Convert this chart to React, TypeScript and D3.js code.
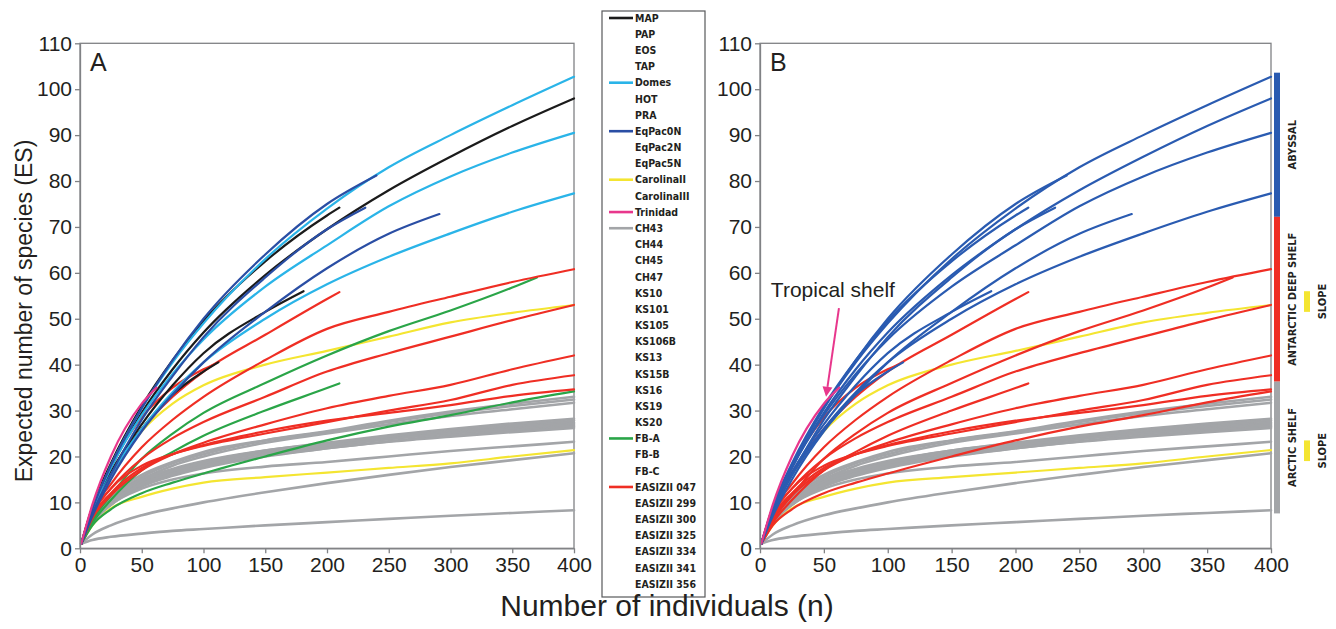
import { useEffect, useRef } from "react";
import * as d3 from "d3";

const W = 1336;
const H = 629;

// sample sizes at which the expected species values were read
const nGrid = [1, 10, 25, 50, 75, 100, 150, 200, 250, 300, 350, 400];

// ES(n) values (last value sits at the curve's end n)
const esMAP = [1, 8.5, 17.5, 29.5, 39, 47, 59.5, 69.5, 78, 85.3, 92, 98];
const esPAP = [1, 9, 18.5, 31, 41, 49.5, 62.5, 72.5, 74.2];
const esEOS = [1, 8, 16.5, 27, 35.5, 42.5, 51.5, 56];
const esTAP = [1, 8, 16, 26, 33.5, 38.5, 40.5];
const esDomes = [1, 8.5, 18, 30.5, 40.5, 49, 63, 74, 83, 90, 96.5, 102.7];
const esHOT = [1, 8.5, 17.5, 29, 38, 45.5, 57, 66, 74.5, 81, 86.2, 90.5];
const esPRA = [1, 8, 16, 26, 34, 40.5, 50, 57.5, 63.5, 68.6, 73.3, 77.3];
const esEqPac0N = [1, 8.5, 18, 30.5, 41, 50, 64, 75, 81.2];
const esEqPac2N = [1, 7.5, 16, 28, 37.5, 46, 59, 69.5, 74.2];
const esEqPac5N = [1, 7, 15, 25.5, 33.5, 40.5, 51.5, 61, 68.5, 72.8];
const esCarolinaII = [1, 8, 16, 25.5, 31.5, 35.5, 40, 43, 46.1, 49.2, 51.3, 53];
const esCarolinaIII = [1, 5, 8.7, 11.2, 13, 14.3, 15.5, 16.5, 17.5, 18.5, 20, 21.4];
const esTrinidad = [1, 9.5, 20, 31.5, 35];
const esCH43 = [1, 6.5, 11, 15.5, 18.5, 20.5, 23.5, 25.5, 27.8, 29.8, 31.5, 33];
const esCH44 = [1, 6.5, 11.5, 16, 18.8, 21, 23.5, 25.3, 27.5, 29.4, 31, 32.4];
const esCH45 = [1, 6, 10.5, 15, 18, 20, 23, 25, 27, 28.8, 30.3, 31.7];
const esCH47 = [1, 6, 10.5, 14.5, 17, 18.8, 21.3, 23, 24.6, 26, 27.2, 28.2];
const esKS10 = [1, 5.5, 10, 14, 16.5, 18.3, 20.8, 22.6, 24.2, 25.6, 26.8, 27.8];
const esKS101 = [1, 6.5, 11, 15, 17.3, 19, 21.3, 22.8, 24.3, 25.5, 26.5, 27.4];
const esKS105 = [1, 5.5, 9.5, 13.5, 16, 17.8, 20.3, 22.2, 23.8, 25.2, 26.2, 27.1];
const esKS106B = [1, 6, 10.5, 14.5, 16.8, 18.5, 20.8, 22.4, 23.8, 25, 26, 26.8];
const esKS13 = [1, 5.5, 9.5, 13.5, 15.8, 17.5, 20, 21.8, 23.3, 24.6, 25.6, 26.5];
const esKS15B = [1, 6, 10, 14, 16.3, 18, 20.2, 21.8, 23.2, 24.3, 25.3, 26.2];
const esKS16 = [1, 5.5, 9.5, 13, 15, 16.3, 17.8, 18.8, 20, 21.2, 22.2, 23.2];
const esKS19 = [1, 3, 5, 7.2, 8.7, 10, 12.2, 14.2, 16, 17.7, 19.2, 20.7];
const esKS20 = [1, 1.8, 2.5, 3.2, 3.8, 4.2, 5, 5.7, 6.4, 7.1, 7.7, 8.3];
const esFBA = [1, 6, 11.5, 19.5, 25, 29.5, 36, 42, 47.3, 51.8, 56.8, 59];
const esFBB = [1, 5.5, 10.5, 17, 21, 24.5, 30, 34.9, 35.9];
const esFBC = [1, 5, 8.5, 12, 14.3, 16.3, 20, 23.5, 26.5, 29, 31.8, 34.2];
const esE047 = [1, 8, 14, 22, 28, 33, 41, 47.8, 51.5, 54.8, 58, 60.8];
const esE299 = [1, 8.5, 16.5, 26, 33, 38.5, 46.5, 54.3, 55.8];
const esE300 = [1, 9, 18, 28.5, 35, 39, 40];
const esE325 = [1, 7.5, 13, 19.5, 24, 27.5, 33, 38.5, 42.5, 46.1, 49.7, 53];
const esE334 = [1, 6.5, 11.5, 17, 20.5, 23, 27, 30.5, 33.2, 35.6, 39, 42];
const esE341 = [1, 7.5, 13, 18, 20.5, 22.3, 25, 27.5, 30, 32.3, 35.6, 37.7];
const esE356 = [1, 7, 12, 17.5, 20.5, 22.5, 25.5, 27.8, 29.5, 31.2, 33.2, 34.6];

const siteNames = [
  "MAP", "PAP", "EOS", "TAP", "Domes", "HOT", "PRA", "EqPac0N", "EqPac2N", "EqPac5N",
  "CarolinaII", "CarolinaIII", "Trinidad", "CH43", "CH44", "CH45", "CH47", "KS10", "KS101",
  "KS105", "KS106B", "KS13", "KS15B", "KS16", "KS19", "KS20", "FB-A", "FB-B", "FB-C",
  "EASIZII 047", "EASIZII 299", "EASIZII 300", "EASIZII 325", "EASIZII 334", "EASIZII 341", "EASIZII 356",
];
const siteValues = [
  esMAP, esPAP, esEOS, esTAP, esDomes, esHOT, esPRA, esEqPac0N, esEqPac2N, esEqPac5N,
  esCarolinaII, esCarolinaIII, esTrinidad, esCH43, esCH44, esCH45, esCH47, esKS10, esKS101,
  esKS105, esKS106B, esKS13, esKS15B, esKS16, esKS19, esKS20, esFBA, esFBB, esFBC,
  esE047, esE299, esE300, esE325, esE334, esE341, esE356,
];
// largest sample size of each curve
const siteMaxN = [
  400, 210, 181, 112, 400, 400, 400, 240, 231, 291,
  400, 400, 62, 400, 400, 400, 400, 400, 400,
  400, 400, 400, 400, 400, 400, 400, 370, 210, 400,
  400, 210, 108, 400, 400, 400, 400,
];
// panel A: region group, panel B: habitat
const siteGroup = [
  "MAP", "MAP", "MAP", "MAP", "Domes", "Domes", "Domes", "EqPac", "EqPac", "EqPac",
  "Carolina", "Carolina", "Trinidad", "CH", "CH", "CH", "CH", "CH", "CH",
  "CH", "CH", "CH", "CH", "CH", "CH", "CH", "FB", "FB", "FB",
  "EASIZII", "EASIZII", "EASIZII", "EASIZII", "EASIZII", "EASIZII", "EASIZII",
];
const siteHabitat = [
  "abyssal", "abyssal", "abyssal", "abyssal", "abyssal", "abyssal", "abyssal", "abyssal", "abyssal", "abyssal",
  "slope", "slope", "tropical", "arctic", "arctic", "arctic", "arctic", "arctic", "arctic",
  "arctic", "arctic", "arctic", "arctic", "arctic", "arctic", "arctic", "antarctic", "antarctic", "antarctic",
  "antarctic", "antarctic", "antarctic", "antarctic", "antarctic", "antarctic", "antarctic",
];

const xTicks = [0, 50, 100, 150, 200, 250, 300, 350, 400];
const yTicks = [0, 10, 20, 30, 40, 50, 60, 70, 80, 90, 100, 110];

// habitat bars at the right of panel B (ES range)
const barNames = ["ABYSSAL", "ANTARCTIC DEEP SHELF", "ARCTIC SHELF"];
const barHabitats = ["abyssal", "antarctic", "arctic"];
const barRanges = [[72.2, 103.6], [36.3, 72.2], [7.6, 36.3]];
const slopeRanges = [[51.5, 56], [19, 23.5]];

const colorA: Record<string, string> = {
  MAP: "#1b1b1b", Domes: "#2ab4e8", EqPac: "#2a4ea4", Carolina: "#f4e531",
  Trinidad: "#e8378c", CH: "#a3a5a8", FB: "#2aa548", EASIZII: "#ef2e24",
};
const colorB: Record<string, string> = {
  abyssal: "#2a5bb1", antarctic: "#ef2e24", slope: "#f4e531", tropical: "#e8378c", arctic: "#a3a5a8",
};
const orderA = ["Carolina", "CH", "FB", "EASIZII", "MAP", "Domes", "EqPac", "Trinidad"];
const orderB = ["slope", "arctic", "antarctic", "abyssal", "tropical"];

const AXIS = "#808285";
const TXT = "#231f20";
const SANS = "'Liberation Sans', Arial, Helvetica, sans-serif";
const COND = "'DejaVu Sans Condensed', 'DejaVu Sans', sans-serif";

const curvePoints = (i: number) => {
  const vals = siteValues[i];
  const end = siteMaxN[i];
  const pts = nGrid.filter((n) => n < end).map((n, k) => [n, vals[k]] as [number, number]);
  pts.push([end, vals[vals.length - 1]]);
  return pts;
};

export default function App() {
  const svgRef = useRef<SVGSVGElement | null>(null);

  useEffect(() => {
    const svg = d3.select(svgRef.current);
    svg.selectAll("*").remove();

    const y = d3.scaleLinear().domain([0, 110]).range([548.3, 43.3]);
    const xA = d3.scaleLinear().domain([0, 400]).range([80, 574]);
    const xB = d3.scaleLinear().domain([0, 400]).range([760, 1271]);

    const drawPanel = (x: any, label: string, keyOf: string[], colors: Record<string, string>, order: string[]) => {
      const g = svg.append("g");
      const line = d3
        .line<[number, number]>()
        .x((d) => x(d[0]))
        .y((d) => y(d[1]))
        .curve(d3.curveMonotoneX);

      // frame
      g.append("rect")
        .attr("x", x(0))
        .attr("y", y(110))
        .attr("width", x(400) - x(0))
        .attr("height", y(0) - y(110))
        .attr("fill", "none")
        .attr("stroke", AXIS)
        .attr("stroke-width", 1.3);

      const gCurves = g.append("g");
      order.forEach((key) => {
        siteNames.forEach((name, i) => {
          if (keyOf[i] !== key) return;
          gCurves
            .append("path")
            .attr("d", line(curvePoints(i)))
            .attr("fill", "none")
            .attr("stroke", colors[key])
            .attr("stroke-width", key === "CH" || key === "arctic" ? 2.6 : 2.2)
            .attr("stroke-linecap", "round");
        });
      });

      const gx = g
        .append("g")
        .attr("transform", `translate(0,${y(0)})`)
        .call(d3.axisBottom(x).tickValues(xTicks).tickSize(5).tickSizeOuter(0).tickPadding(4));
      const gy = g
        .append("g")
        .attr("transform", `translate(${x(0)},0)`)
        .call(d3.axisLeft(y).tickValues(yTicks).tickSize(5).tickSizeOuter(0).tickPadding(3));
      [gx, gy].forEach((ax) => {
        ax.select(".domain").attr("stroke", AXIS).attr("stroke-width", 1.3);
        ax.selectAll(".tick line").attr("stroke", AXIS).attr("stroke-width", 1.3);
        ax.selectAll(".tick text")
          .attr("fill", TXT)
          .style("font-family", SANS)
          .style("font-size", "21px");
      });

      g.append("text")
        .attr("x", x(0) + 10)
        .attr("y", y(110) + 28)
        .attr("fill", TXT)
        .style("font-family", SANS)
        .style("font-size", "25px")
        .text(label);
      return g;
    };

    drawPanel(xA, "A", siteGroup, colorA, orderA);
    const gB = drawPanel(xB, "B", siteHabitat, colorB, orderB);

    // habitat bars on panel B
    barNames.forEach((name, i) => {
      const [lo, hi] = barRanges[i];
      gB.append("rect")
        .attr("x", xB(400) + 3)
        .attr("y", y(hi))
        .attr("width", 6)
        .attr("height", y(lo) - y(hi))
        .attr("fill", colorB[barHabitats[i]]);
      gB.append("text")
        .attr("transform", `translate(${xB(400) + 25},${(y(lo) + y(hi)) / 2}) rotate(-90)`)
        .attr("text-anchor", "middle")
        .attr("fill", TXT)
        .style("font-family", COND)
        .style("font-weight", "bold")
        .style("font-size", "11px")
        .text(name);
    });
    slopeRanges.forEach(([lo, hi]) => {
      gB.append("rect")
        .attr("x", xB(400) + 33)
        .attr("y", y(hi))
        .attr("width", 6)
        .attr("height", y(lo) - y(hi))
        .attr("fill", colorB.slope);
      gB.append("text")
        .attr("transform", `translate(${xB(400) + 55},${(y(lo) + y(hi)) / 2}) rotate(-90)`)
        .attr("text-anchor", "middle")
        .attr("fill", TXT)
        .style("font-family", COND)
        .style("font-weight", "bold")
        .style("font-size", "11px")
        .text("SLOPE");
    });

    // tropical shelf pointer
    const tipX = xB(51.7);
    const tipY = y(33);
    const startX = xB(61.8);
    const startY = y(52.3);
    const ang = Math.atan2(tipY - startY, tipX - startX);
    const back = 10;
    const bx = tipX - back * Math.cos(ang);
    const by = tipY - back * Math.sin(ang);
    gB.append("line")
      .attr("x1", startX)
      .attr("y1", startY)
      .attr("x2", bx)
      .attr("y2", by)
      .attr("stroke", colorB.tropical)
      .attr("stroke-width", 2);
    gB.append("path")
      .attr(
        "d",
        `M${tipX},${tipY}L${bx + 5 * Math.sin(ang)},${by - 5 * Math.cos(ang)}L${bx - 5 * Math.sin(ang)},${by + 5 * Math.cos(ang)}Z`
      )
      .attr("fill", colorB.tropical);
    gB.append("text")
      .attr("x", xB(8.5))
      .attr("y", y(54.8))
      .attr("fill", TXT)
      .style("font-family", SANS)
      .style("font-size", "21px")
      .text("Tropical shelf");

    // legend
    const lg = svg.append("g");
    lg.append("rect")
      .attr("x", 602)
      .attr("y", 11)
      .attr("width", 103)
      .attr("height", 586)
      .attr("fill", "#fff")
      .attr("stroke", "#58595b")
      .attr("stroke-width", 1.2);
    const step = (584 - 18) / (siteNames.length - 1);
    siteNames.forEach((name, i) => {
      const yy = 18 + i * step;
      const first = i === 0 || siteGroup[i] !== siteGroup[i - 1];
      if (first) {
        lg.append("line")
          .attr("x1", 609)
          .attr("x2", 633)
          .attr("y1", yy)
          .attr("y2", yy)
          .attr("stroke", colorA[siteGroup[i]])
          .attr("stroke-width", 2.6);
      }
      lg.append("text")
        .attr("x", 635)
        .attr("y", yy)
        .attr("dy", "0.36em")
        .attr("fill", TXT)
        .style("font-family", COND)
        .style("font-weight", "bold")
        .style("font-size", "10.5px")
        .text(name);
    });

    // axis titles
    svg.append("text")
      .attr("transform", `translate(32,311) rotate(-90)`)
      .attr("text-anchor", "middle")
      .attr("fill", TXT)
      .style("font-family", SANS)
      .style("font-size", "23px")
      .text("Expected number of species (ES)");
    svg.append("text")
      .attr("x", 667)
      .attr("y", 616)
      .attr("text-anchor", "middle")
      .attr("fill", TXT)
      .style("font-family", SANS)
      .style("font-size", "30px")
      .text("Number of individuals (n)");
  }, []);

  return (
    <svg
      ref={svgRef}
      width={W}
      height={H}
      style={{ position: "absolute", left: 0, top: 0, background: "#fff" }}
    />
  );
}
